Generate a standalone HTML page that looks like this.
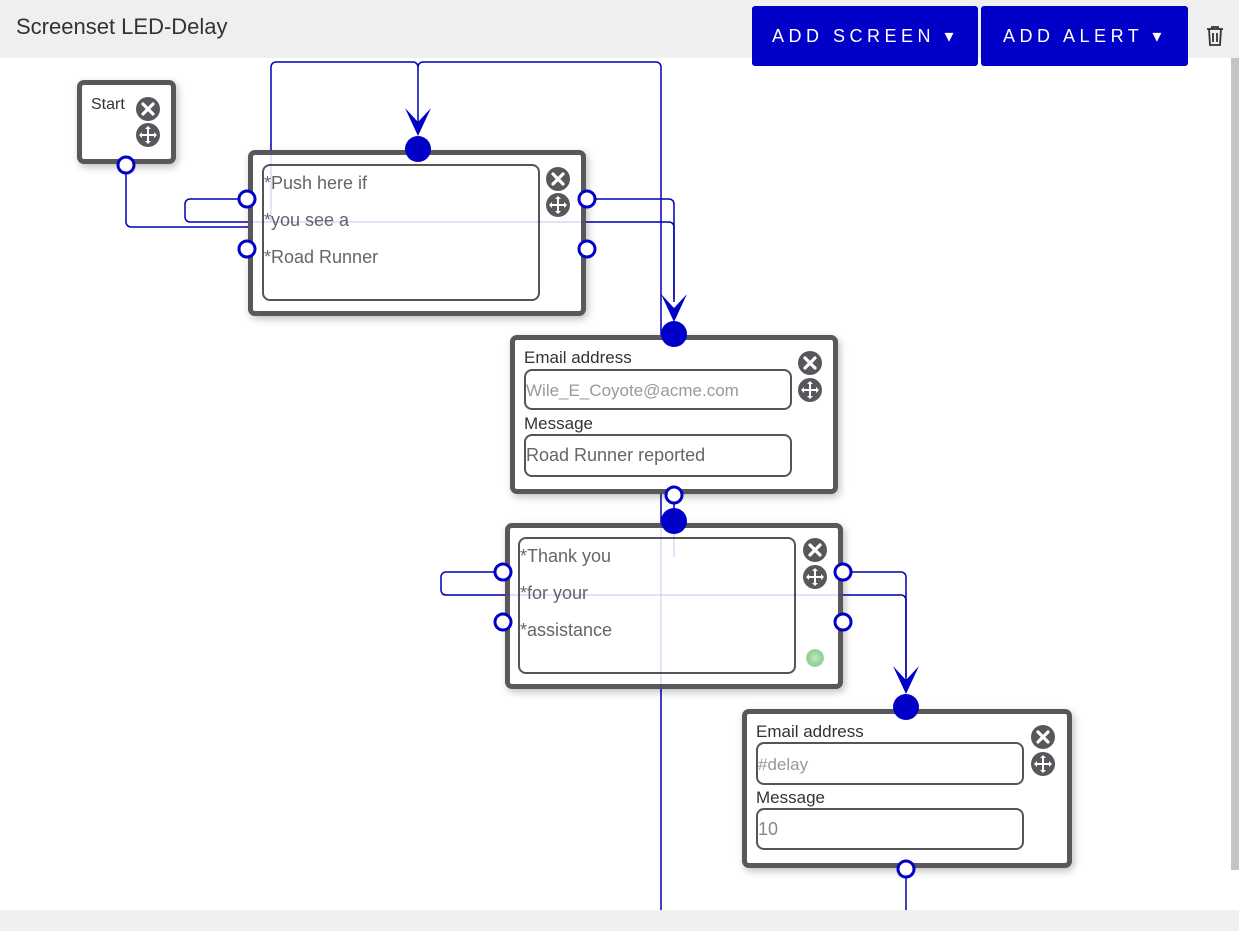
<!DOCTYPE html>
<html><head><meta charset="utf-8"><style>
*{box-sizing:border-box;margin:0;padding:0}
body{width:1239px;height:931px;position:relative;overflow:hidden;background:#fff;font-family:"Liberation Sans",sans-serif}
.hdr{position:absolute;left:0;top:0;width:1239px;height:58px;background:#efefef}
.title{position:absolute;left:16px;top:14px;font-size:22px;color:#333}
.btn{position:absolute;top:6px;height:60px;background:#0000c8;color:#fff;border-radius:3px;font-size:18px;letter-spacing:4.5px;line-height:60px;text-align:center}
.node{position:absolute;background:#fff;border:5px solid #58585c;border-radius:7px;box-shadow:2px 3px 8px rgba(0,0,0,.25)}
.tb{position:absolute;border:2px solid #555;border-radius:8px;background:transparent}
.t{position:absolute;font-size:18px;color:#666;white-space:nowrap}
.lbl{position:absolute;font-size:17px;color:#333;white-space:nowrap}
.ph{position:absolute;font-size:17px;color:#999;white-space:nowrap}
</style></head><body>
<div class="hdr"></div>
<div class="title">Screenset LED-Delay</div>
<div class="btn" style="left:752px;width:226px">ADD SCREEN ▾</div>
<div class="btn" style="left:981px;width:207px">ADD ALERT ▾</div>
<svg style="position:absolute;left:1205px;top:25px" width="20" height="22" viewBox="0 0 20 22"><path d="M2 4h16M7 4V2h6v2M4 4l1 16h10l1-16M8 8v9M12 8v9" fill="none" stroke="#333" stroke-width="1.8"/></svg>
<div style="position:absolute;left:1231px;top:58px;width:8px;height:812px;background:#c4c4c4"></div>
<div style="position:absolute;left:0;top:910px;width:1239px;height:21px;background:#f0f0f0"></div>

<svg style="position:absolute;left:0;top:0" width="1239" height="931">
<g fill="none" stroke="#0000b0" stroke-width="1.5">
<path d="M126 173V222a5 5 0 0 0 5 5H250"/>
<path d="M239 199H190a5 5 0 0 0-5 5v13a5 5 0 0 0 5 5H669a5 5 0 0 1 5 5v75"/>
<path d="M595 199H669a5 5 0 0 1 5 5v95"/>
<path d="M271 222V67a5 5 0 0 1 5-5H413a5 5 0 0 1 5 5v65"/>
<path d="M418 67a5 5 0 0 1 5-5H656a5 5 0 0 1 5 5V910"/>
<path d="M674 503V510"/>
<path d="M495 572H446a5 5 0 0 0-5 5v13a5 5 0 0 0 5 5H901a5 5 0 0 1 5 5v88"/>
<path d="M851 572H901a5 5 0 0 1 5 5v100"/>
<path d="M906 877V910"/>
</g>
<g fill="#0000c8">
<polygon points="418,136 405,108 418,122 431,108"/>
<polygon points="674,322 661,294 674,308 687,294"/>
<polygon points="906,694 893,666 906,680 919,666"/>
</g>
</svg>

<!-- Start -->
<div class="node" style="left:77px;top:80px;width:99px;height:84px"></div>
<div class="lbl" style="left:91px;top:96px;font-size:16px">Start</div>

<!-- node 2 -->
<div class="node" style="left:248px;top:150px;width:338px;height:166px"></div>
<div class="tb" style="left:262px;top:164px;width:278px;height:137px"></div>
<div class="t" style="left:264px;top:173px">*Push here if</div>
<div class="t" style="left:264px;top:210px">*you see a</div>
<div class="t" style="left:264px;top:247px">*Road Runner</div>

<!-- node 3 -->
<div class="node" style="left:510px;top:335px;width:328px;height:159px"></div>
<div class="lbl" style="left:524px;top:348px">Email address</div>
<div class="tb" style="left:524px;top:369px;width:268px;height:41px"></div>
<div class="ph" style="left:526px;top:381px">Wile_E_Coyote@acme.com</div>
<div class="lbl" style="left:524px;top:414px">Message</div>
<div class="tb" style="left:524px;top:434px;width:268px;height:43px"></div>
<div class="t" style="left:526px;top:445px">Road Runner reported</div>

<!-- node 4 -->
<div class="node" style="left:505px;top:523px;width:338px;height:166px"></div>
<div class="tb" style="left:518px;top:537px;width:278px;height:137px"></div>
<div class="t" style="left:520px;top:546px">*Thank you</div>
<div class="t" style="left:520px;top:583px">*for your</div>
<div class="t" style="left:520px;top:620px">*assistance</div>
<div style="position:absolute;left:806px;top:649px;width:18px;height:18px;border-radius:50%;background:radial-gradient(#bfe8bf,#8fd08f 60%,rgba(150,220,150,0))"></div>

<!-- node 5 -->
<div class="node" style="left:742px;top:709px;width:330px;height:159px"></div>
<div class="lbl" style="left:756px;top:722px">Email address</div>
<div class="tb" style="left:756px;top:742px;width:268px;height:43px"></div>
<div class="ph" style="left:758px;top:755px">#delay</div>
<div class="lbl" style="left:756px;top:788px">Message</div>
<div class="tb" style="left:756px;top:808px;width:268px;height:42px"></div>
<div class="t" style="left:758px;top:819px;color:#888">10</div>

<svg style="position:absolute;left:0;top:0" width="1239" height="931">
<defs>
<g id="x"><circle r="12" fill="#58585c"/><path d="M-5-5L5 5M5-5L-5 5" stroke="#fff" stroke-width="3.2" stroke-linecap="round"/></g>
<g id="m"><circle r="12" fill="#58585c"/><path d="M-8 0H8M0-8V8" stroke="#fff" stroke-width="2"/><path d="M0-9l-3 3h6zM0 9l-3-3h6zM-9 0l3-3v6zM9 0l-3-3v6z" fill="#fff"/></g>
<g id="p"><circle r="8" fill="#fff" stroke="#0000c8" stroke-width="3"/></g>
</defs>
<g stroke="#0000b0" stroke-width="1.2" opacity="0.18" fill="none">
<path d="M250 222H669M271 222V150M674 500V557M441 595H901M661 523V689M248 227H250"/>
</g>
<use href="#x" x="148" y="109"/><use href="#m" x="148" y="135"/>
<use href="#x" x="558" y="179"/><use href="#m" x="558" y="205"/>
<use href="#x" x="810" y="363"/><use href="#m" x="810" y="390"/>
<use href="#x" x="815" y="550"/><use href="#m" x="815" y="577"/>
<use href="#x" x="1043" y="737"/><use href="#m" x="1043" y="764"/>
<g fill="#0000c8">
<circle cx="418" cy="149" r="13"/><circle cx="674" cy="334" r="13"/>
<circle cx="674" cy="521" r="13"/><circle cx="906" cy="707" r="13"/>
</g>
<use href="#p" x="126" y="165"/>
<use href="#p" x="247" y="199"/><use href="#p" x="247" y="249"/>
<use href="#p" x="587" y="199"/><use href="#p" x="587" y="249"/>
<use href="#p" x="674" y="495"/>
<use href="#p" x="503" y="572"/><use href="#p" x="503" y="622"/>
<use href="#p" x="843" y="572"/><use href="#p" x="843" y="622"/>
<use href="#p" x="906" y="869"/>
</svg>
</body></html>
